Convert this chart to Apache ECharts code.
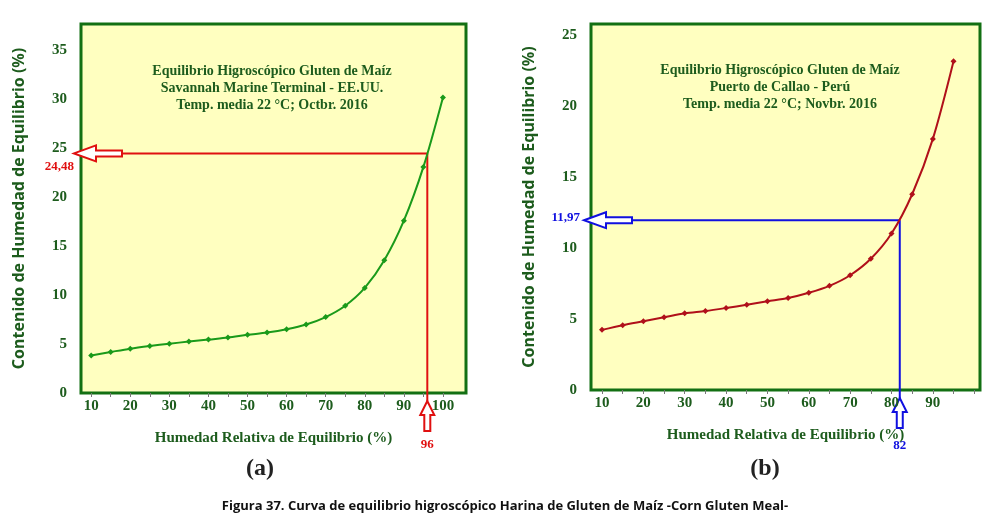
<!DOCTYPE html>
<html><head><meta charset="utf-8">
<script src="https://cdn.jsdelivr.net/npm/echarts@6/dist/echarts.min.js"></script>
<style>html,body{margin:0;background:#fff}#c{width:1000px;height:520px}</style>
</head><body><div id="c"></div>
<script>
const humedad = [10,15,20,25,30,35,40,45,50,55,60,65,70,75,80,85,90,95,100];
const savannah = [3.84,4.19,4.53,4.80,5.04,5.25,5.46,5.66,5.94,6.18,6.52,7.0,7.76,8.92,10.74,13.56,17.6,23.1,30.2];
const humedadB = [10,15,20,25,30,35,40,45,50,55,60,65,70,75,80,85,90,95];
const callao = [4.24,4.57,4.85,5.13,5.41,5.57,5.78,6.01,6.25,6.48,6.85,7.34,8.09,9.25,11.03,13.8,17.7,23.17];
const refA = {x:96, y:24.48, label:'24,48', xl:'96', color:'#e01010'};
const refB = {x:82, y:11.97, label:'11,97', xl:'82', color:'#1010e0'};
const xTicksA = [10,20,30,40,50,60,70,80,90,100];
const xTicksB = [10,20,30,40,50,60,70,80,90];
const yTicksA = [0,5,10,15,20,25,30,35];
const yTicksB = [0,5,10,15,20,25];
const minor = [10,15,20,25,30,35,40,45,50,55,60,65,70,75,80,85,90,95,100];

const green='#1d5c1d', serif='Liberation Serif';
const chart = echarts.init(document.getElementById('c'));
function xa(gi,min,max,labels){return {gridIndex:gi,type:'value',min,max,
  axisLine:{show:false},splitLine:{show:false},
  axisTick:{show:true,customValues:minor,length:4,lineStyle:{color:'#777'}},
  axisLabel:{customValues:labels,color:green,fontFamily:serif,fontWeight:'bold',fontSize:15,margin:6},
  name:'Humedad Relativa de Equilibrio (%)',nameLocation:'middle',nameGap:38,
  nameTextStyle:{color:green,fontFamily:serif,fontWeight:'bold',fontSize:15}};}
function ya(gi,max,labels){return {gridIndex:gi,type:'value',min:0,max,
  axisLine:{show:false},splitLine:{show:false},axisTick:{show:false},
  axisLabel:{customValues:labels,color:green,fontFamily:serif,fontWeight:'bold',fontSize:15,margin:14},
  name:'Contenido de Humedad de Equilibrio (%)',nameLocation:'middle',nameGap:54,
  nameTextStyle:{color:green,fontFamily:'Noto Sans',fontWeight:'bold',fontSize:16}};}
const gridStyle={show:true,backgroundColor:'#ffffc0',borderColor:'#137013',borderWidth:3};
chart.setOption({
  animation:false,
  grid:[Object.assign({left:81,top:24,width:385,height:369},gridStyle),
        Object.assign({left:591,top:24,width:389,height:366},gridStyle)],
  xAxis:[xa(0,7.4,105.9,xTicksA),xa(1,7.34,101.4,xTicksB)],
  yAxis:[ya(0,37.7,yTicksA),ya(1,25.8,yTicksB)],
  title:[
    {text:'Equilibrio Higroscópico Gluten de Maíz\nSavannah Marine Terminal - EE.UU.\nTemp. media 22 °C; Octbr. 2016',left:267,top:58,textAlign:'center',
     textStyle:{color:green,fontFamily:serif,fontWeight:'bold',fontSize:14,lineHeight:17}},
    {text:'Equilibrio Higroscópico Gluten de Maíz\nPuerto de Callao - Perú\nTemp. media 22 °C; Novbr. 2016',left:775,top:57,textAlign:'center',
     textStyle:{color:green,fontFamily:serif,fontWeight:'bold',fontSize:14,lineHeight:17}},
    {text:'(a)',left:255,top:452,textAlign:'center',textStyle:{color:'#222',fontFamily:serif,fontWeight:'bold',fontSize:24}},
    {text:'(b)',left:760,top:452,textAlign:'center',textStyle:{color:'#222',fontFamily:serif,fontWeight:'bold',fontSize:24}},
    {text:'Figura 37. Curva de equilibrio higroscópico Harina de Gluten de Maíz -Corn Gluten Meal-',left:500,top:495,textAlign:'center',
     textStyle:{color:'#111',fontFamily:'Open Sans',fontWeight:'bold',fontSize:13}}
  ],
  series:[
    {type:'line',xAxisIndex:0,yAxisIndex:0,data:humedad.map((x,i)=>[x,savannah[i]]),smooth:0.3,
     symbol:'diamond',symbolSize:6,lineStyle:{color:'#1a9a1a',width:2},itemStyle:{color:'#1a9a1a'}},
    {type:'line',xAxisIndex:1,yAxisIndex:1,data:humedadB.map((x,i)=>[x,callao[i]]),smooth:0.3,
     symbol:'diamond',symbolSize:6,lineStyle:{color:'#b0101a',width:2},itemStyle:{color:'#b0101a'}}
  ]
});
function refGraphics(ref,gi,leftX){
  const p=chart.convertToPixel({xAxisIndex:gi,yAxisIndex:gi},[ref.x,ref.y]);
  const b=chart.convertToPixel({xAxisIndex:gi,yAxisIndex:gi},[ref.x,0]);
  const tx=leftX-7, ty=p[1], px=p[0], by=b[1]+8;
  const st={fill:'#fff',stroke:ref.color,lineWidth:2};
  return [
    {type:'line',shape:{x1:tx+48,y1:ty,x2:px,y2:ty},style:{stroke:ref.color,lineWidth:2}},
    {type:'line',shape:{x1:px,y1:ty,x2:px,y2:by},style:{stroke:ref.color,lineWidth:2}},
    {type:'polygon',shape:{points:[[tx,ty],[tx+22,ty-8],[tx+22,ty-3],[tx+48,ty-3],[tx+48,ty+3],[tx+22,ty+3],[tx+22,ty+8]]},style:st},
    {type:'polygon',shape:{points:[[px,by],[px-7,by+14],[px-3,by+14],[px-3,by+30],[px+3,by+30],[px+3,by+14],[px+7,by+14]]},style:st},
    {type:'text',x:tx-2,y:ty+4,style:{text:ref.label,fill:ref.color,font:'bold 13px "Liberation Serif"',align:'right',verticalAlign:'top'}},
    {type:'text',x:px,y:by+37,style:{text:ref.xl,fill:ref.color,font:'bold 13px "Liberation Serif"',align:'center',verticalAlign:'top'}}
  ];
}
const ga=refGraphics(refA,0,81), gb=refGraphics(refB,1,591);
ga[4].x=ga[4].x+2; ga[4].y=ga[4].y+3;
gb[4].x=gb[4].x-2; gb[4].y=gb[4].y-13;
gb[5].y=gb[5].y+4;
chart.setOption({graphic:ga.concat(gb)});
</script></body></html>
